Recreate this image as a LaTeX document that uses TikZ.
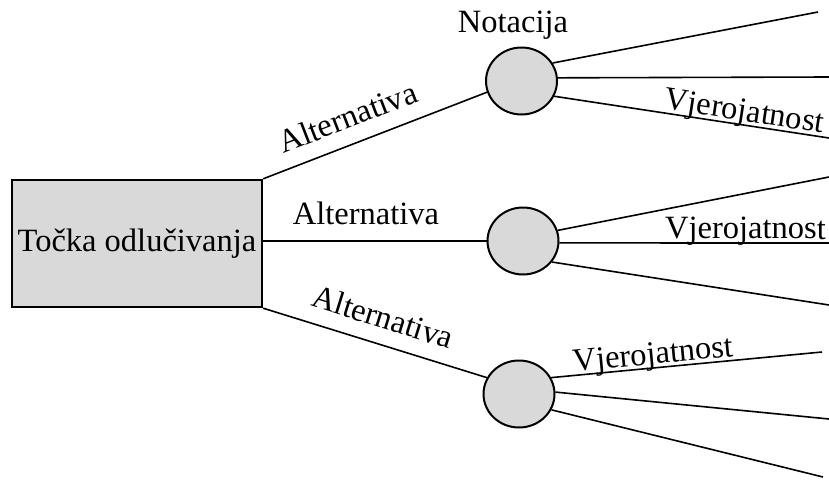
\documentclass[tikz,border=0pt]{standalone}
\usepackage{fontspec}
\setmainfont{Liberation Serif}
\usetikzlibrary{shapes.geometric}
\definecolor{nodegray}{HTML}{D9D9D9}
\begin{document}
\begin{tikzpicture}[x=1pt,y=-1pt,
  conn/.style={line width=1.6pt},
  chance/.style={draw, ellipse, fill=nodegray, line width=2pt, minimum width=71pt, minimum height=67pt, inner sep=0pt},
  lbl/.style={font=\fontsize{32.5}{38}\selectfont, inner sep=0pt},
  altlbl/.style={lbl, sloped, above=15pt},
  problbl/.style={lbl, sloped, anchor=base, yshift=4pt}]
\useasboundingbox (0,0) rectangle (829,480);
\node[draw, fill=nodegray, line width=2.4pt, minimum width=250pt, minimum height=127pt, inner sep=0pt, lbl] (d) at (137,243.5) {Točka odlučivanja};
\node[chance] (c1) at (521.5,81) {};
\node[chance] (c2) at (523,241) {};
\node[chance] (c3) at (519,394) {};
\node[lbl, anchor=base] (nt) at (513,32) {Notacija};
% ends
\coordinate (e11) at (818,12);
\coordinate (e12) at (829,77);
\coordinate (e13) at (829,138);
\coordinate (e21) at (829,177);
\coordinate (e22) at (829,243);
\coordinate (e23) at (829,305);
\coordinate (e31) at (822,352);
\coordinate (e32) at (829,419);
\coordinate (e33) at (823,477);
% decision branches
\draw[conn] (d.north east) -- node[altlbl, pos=0.42] (a1) {Alternativa} (c1.198);
\draw[conn] (d.east |- c2.west) -- node[altlbl, pos=0.46] (a2) {Alternativa} (c2.west);
\draw[conn] (d.south east) -- node[altlbl, pos=0.5] (a3) {Alternativa} (c3.153);
% chance branches
\draw[conn] (c1.30) -- (e11);
\draw[conn] (c1.5) -- (e12);
\draw[conn] (c1.-25) -- node[problbl, pos=0.685] (p1) {Vjerojatnost} (e13);
\draw[conn] (c2.17) -- (e21);
\draw[conn] (c2.-3) -- node[problbl, pos=0.69] (p2) {Vjerojatnost} (e22);
\draw[conn] (c2.-36) -- (e23);
\draw[conn] (c3.27) -- node[problbl, pos=0.38] (p3) {Vjerojatnost} (e31);
\draw[conn] (c3.3) -- (e32);
\draw[conn] (c3.-26) -- (e33);
\end{tikzpicture}
\end{document}
